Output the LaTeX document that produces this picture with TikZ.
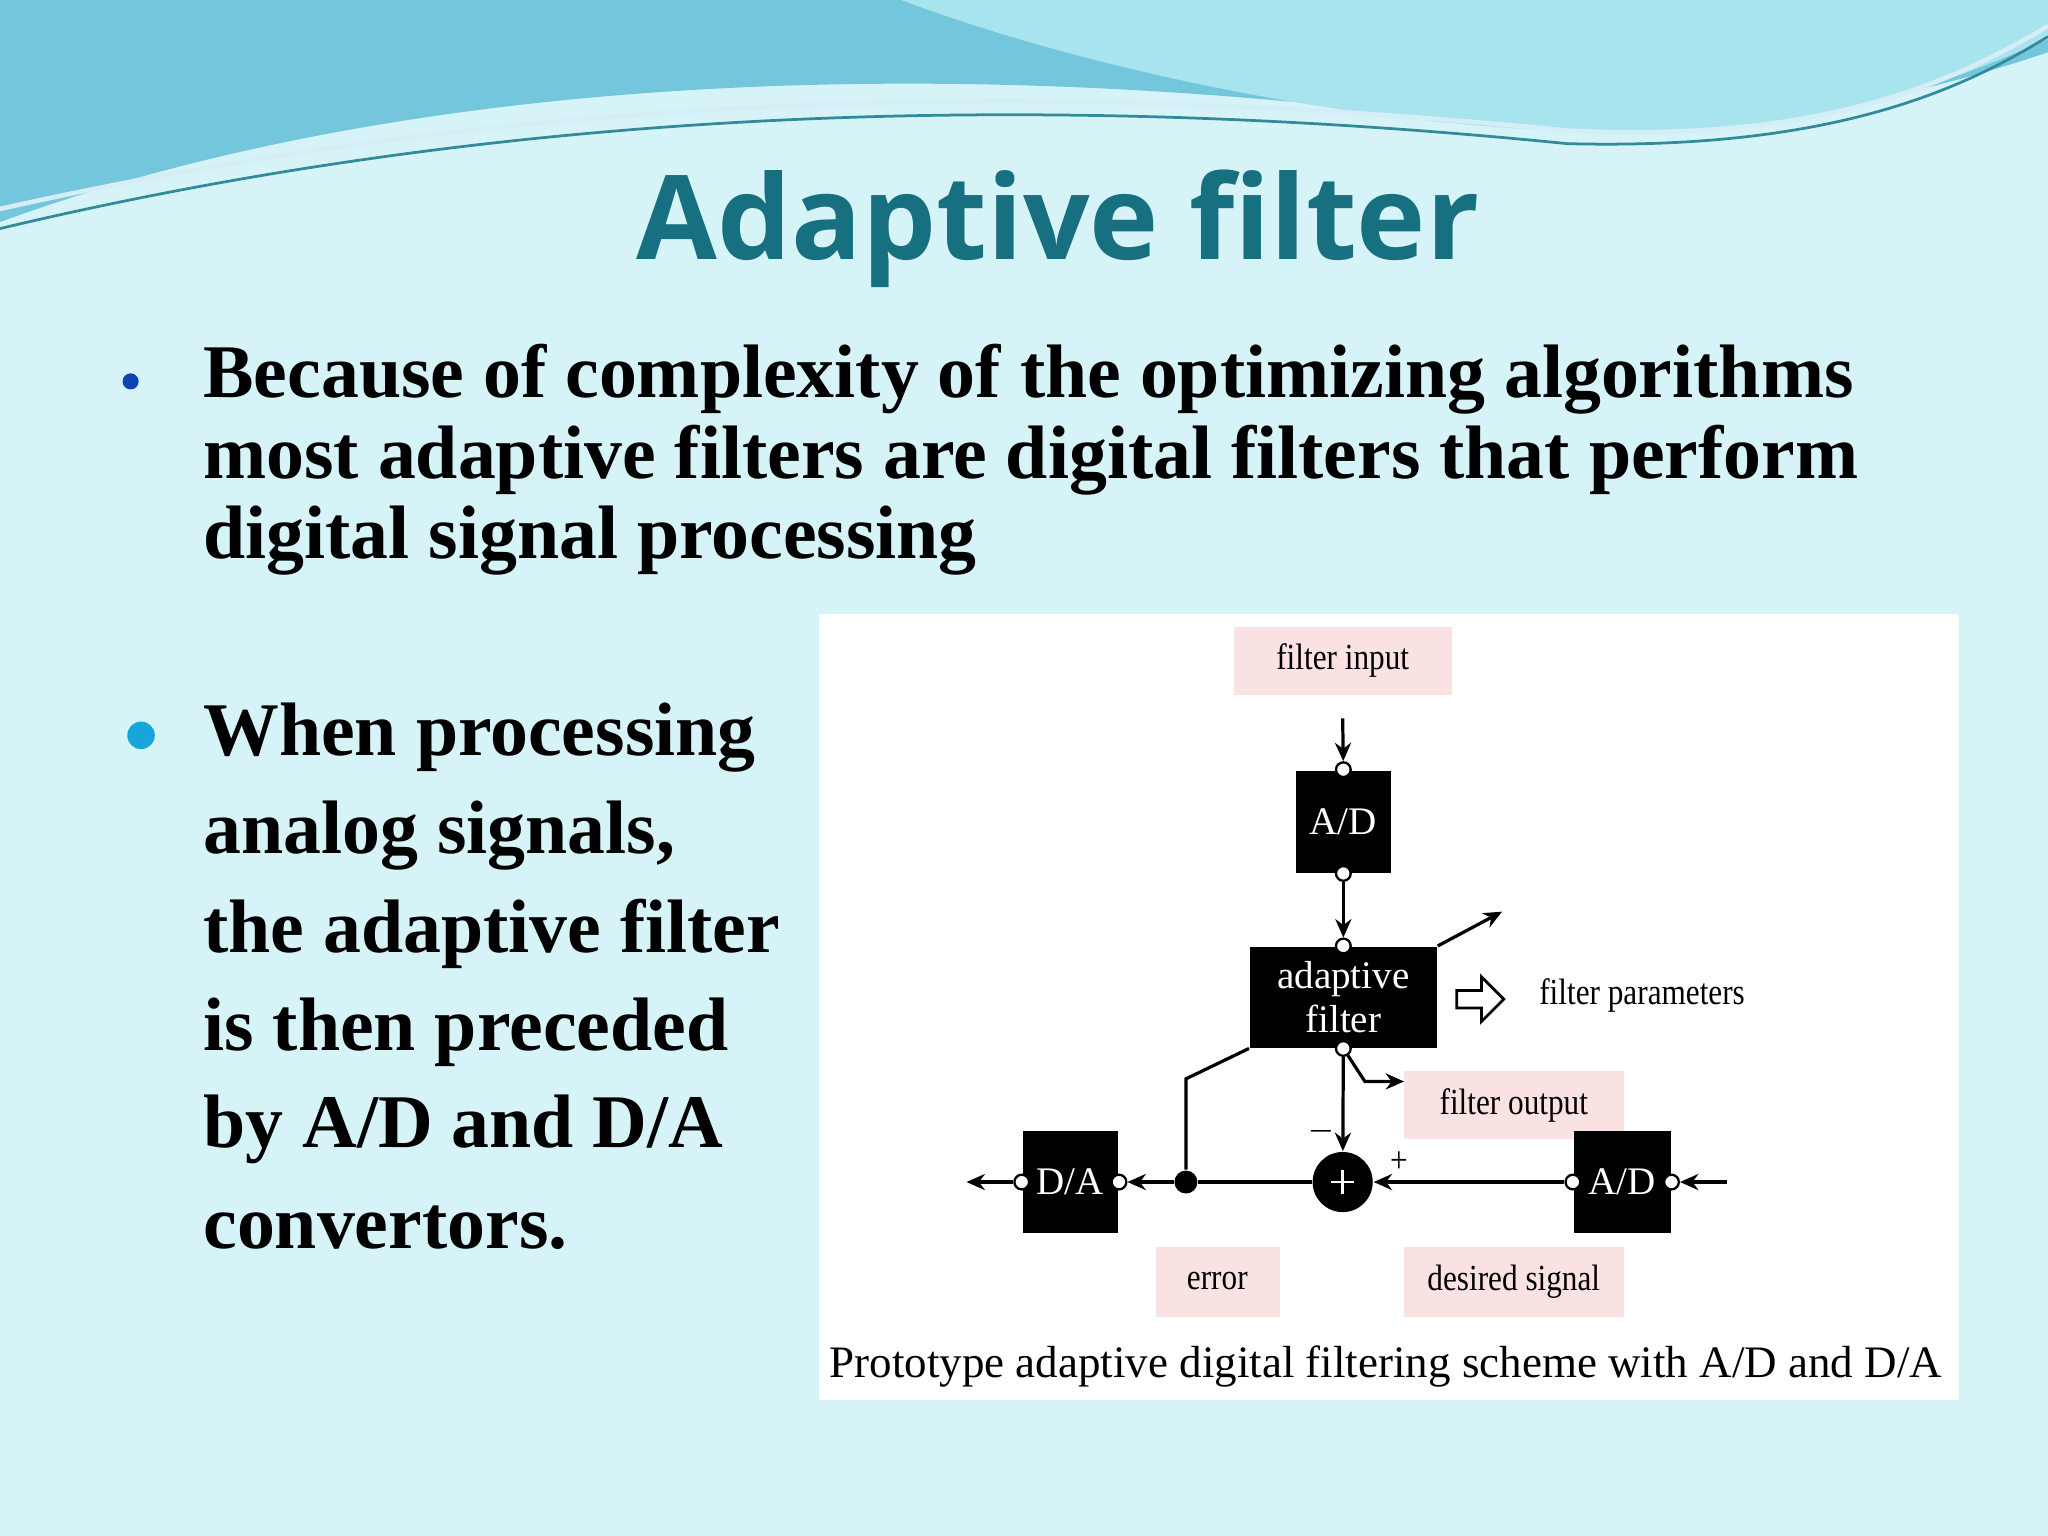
\documentclass[tikz,border=0pt]{standalone}
\usepackage{fontspec}
\setmainfont{Liberation Serif}
\newfontfamily\titlefont{Open Sans}
\usetikzlibrary{arrows.meta,shapes.arrows,calc}
\definecolor{bgc}{HTML}{D6F4F8}
\definecolor{waveA}{HTML}{74C6DC}
\definecolor{waveB}{HTML}{A8E4EE}
\definecolor{titc}{HTML}{17707F}
\definecolor{pinkc}{HTML}{FBE2E2}
\tikzset{
 blk/.style={fill=black,draw=none,text=white,inner sep=0pt,font=\fontsize{8.5}{9.5}\selectfont,align=center},
 port/.style={circle,draw=black,fill=white,inner sep=0pt,minimum size=3.2pt,line width=0.5pt},
 sig/.style={line width=0.7pt,-{Stealth[length=4pt,width=3.5pt]}},
 ln/.style={line width=0.7pt},
 lab/.style={font=\fontsize{8}{9}\selectfont,xscale=0.85},
 body/.style={anchor=west,font=\fontsize{16.5}{16}\selectfont\bfseries,text=black,inner sep=0pt}
}
\begin{document}
\begin{tikzpicture}[x=0.01cm,y=-0.01cm]
\fill[bgc] (0,0) rectangle (1568,1176);
\useasboundingbox (0,0) rectangle (1568,1176);
% waves
\fill[waveA] (0,0) -- (0,170) .. controls (300,60) and (700,40) .. (1100,90) .. controls (1300,110) and (1450,80) .. (1568,40) -- (1568,0) -- cycle;
\fill[waveB] (690,0) .. controls (850,60) and (1100,110) .. (1300,100) .. controls (1420,90) and (1500,60) .. (1568,30) -- (1568,0) -- cycle;
\draw[white!70!waveA,line width=1pt] (0,160) .. controls (400,70) and (800,60) .. (1200,100) .. controls (1400,110) and (1500,60) .. (1568,20);
\draw[titc!70!waveA,line width=0.6pt] (0,175) .. controls (400,80) and (800,70) .. (1200,110) .. controls (1400,115) and (1500,70) .. (1568,28);
% title
\node[font=\titlefont\bfseries\fontsize{25.5}{27}\selectfont,text=titc] (title) at (810,175) {Adaptive filter};
% bullets
\node[circle,fill=titc!60!blue,inner sep=0pt,minimum size=3.5pt] (b1) at (100,292) {};
\node[body] (t1) at (155,290) {Because of complexity of the optimizing algorithms};
\node[body] (t2) at (155,352) {most adaptive filters are digital filters that perform};
\node[body] (t3) at (155,414) {digital signal processing};
\node[circle,fill=cyan!80!teal,inner sep=0pt,minimum size=6pt] (b2) at (108,563) {};
\node[body] (u1) at (155,565) {When processing};
\node[body] (u2) at (155,640) {analog signals,};
\node[body] (u3) at (155,715) {the adaptive filter};
\node[body] (u4) at (155,790) {is then preceded};
\node[body] (u5) at (155,865) {by A/D and D/A};
\node[body] (u6) at (155,940) {convertors.};
% diagram panel
\fill[white] (627,470) rectangle (1500,1072);
\fill[pinkc] (945,480) rectangle (1112,532);
\fill[pinkc] (1075,820) rectangle (1243,872);
\fill[pinkc] (885,955) rectangle (980,1008);
\fill[pinkc] (1075,955) rectangle (1243,1008);
\node[lab] (fin) at (1028,506) {filter input};
\node[lab] (fout) at (1159,846) {filter output};
\node[lab] (err) at (932,981) {error};
\node[lab] (des) at (1159,981) {desired signal};
\node[lab,anchor=west] (fpar) at (1168,762) {filter parameters};
% blocks
\node[blk,minimum width=0.73cm,minimum height=0.78cm] (ad1) at (1028.5,629) {A/D};
\node[blk,minimum width=1.43cm,minimum height=0.77cm] (af) at (1028.5,763.5) {adaptive\\filter};
\node[blk,minimum width=0.73cm,minimum height=0.78cm] (da) at (819.5,905) {D/A};
\node[blk,minimum width=0.74cm,minimum height=0.78cm] (ad2) at (1242,905) {A/D};
\node[circle,fill=black,minimum size=0.46cm,inner sep=0pt] (sum) at (1028,905) {};
\draw[white,line width=0.6pt] ($(sum)+(-9,0)$) -- ($(sum)+(9,0)$) ($(sum)+(0,-9)$) -- ($(sum)+(0,9)$);
% ports
\node[port] (p1) at (ad1.north) {};
\node[port] (p2) at (ad1.south) {};
\node[port] (p3) at (af.north) {};
\node[port] (p4) at (af.south) {};
\node[port] (p5) at (da.east) {};
\node[port] (p6) at (da.west) {};
\node[port] (p7) at (ad2.west) {};
\node[port] (p8) at (ad2.east) {};
\node[circle,fill=black,inner sep=0pt,minimum size=5pt] (dot) at (908,905) {};
\coordinate (cin) at (1028,550);
\coordinate (cr) at (1322,905);
\coordinate (cl) at (740,905);
\coordinate (par) at (1150,698);
\coordinate (fo1) at (1045,828);
\coordinate (fo2) at (1075,828);
\coordinate (fb) at (908,826);
% connections
\draw[sig] (cin) -- (p1);
\draw[sig] (p2) -- (p3);
\draw[sig] (p4) -- (sum);
\draw[ln,-{Stealth[length=4pt,width=3.5pt]}] (p4) -- (fo1) -- (fo2);
\draw[sig] (af.north east) -- (par);
\draw[sig] (cr) -- (p8);
\draw[sig] (p7) -- (sum);
\draw[ln] (sum) -- (dot);
\draw[sig] (dot) -- (p5);
\draw[sig] (p6) -- (cl);
\draw[ln] (dot) -- (fb) -- (af.south west);
\node[single arrow,draw=black,fill=white,line width=0.6pt,minimum height=0.36cm,minimum width=0.34cm,single arrow head extend=2pt,inner sep=1pt] (harr) at (1130,765) {};
\node[lab] (minus) at (1012,866) {$-$};
\node[lab] (plus) at (1071,890) {+};
\node[font=\fontsize{9.8}{11}\selectfont] (cap) at (1061,1046) {Prototype adaptive digital filtering scheme with A/D and D/A};
\end{tikzpicture}
\end{document}
